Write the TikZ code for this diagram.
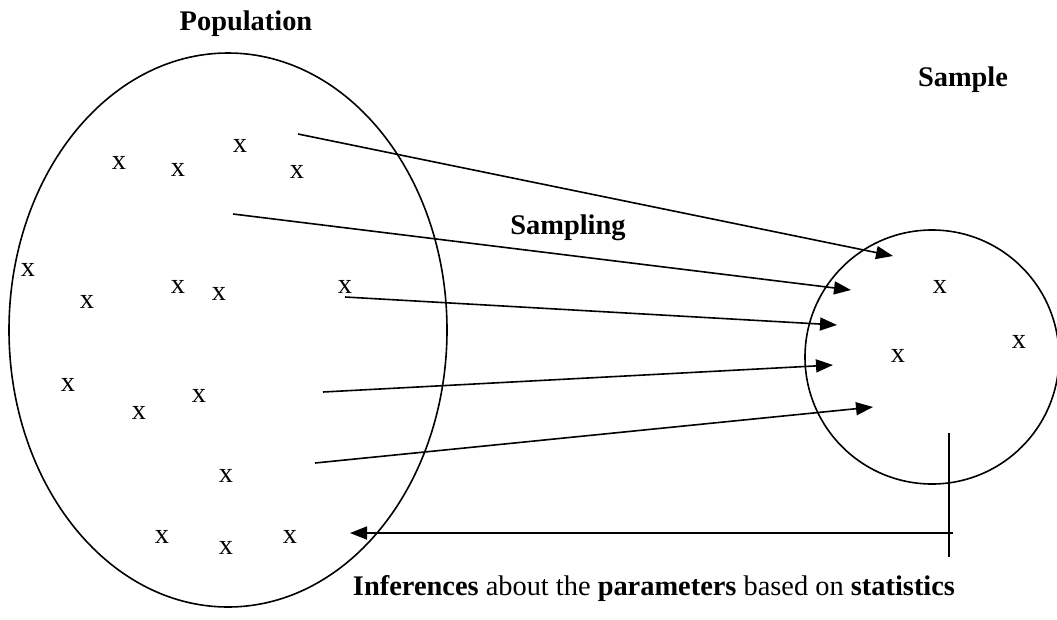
\documentclass[tikz,border=0pt]{standalone}
\usepackage{fontspec}
\setmainfont{Liberation Serif}
\usetikzlibrary{arrows.meta}
\begin{document}
\begin{tikzpicture}[x=1pt,y=-1pt,
  lbl/.style={font=\fontsize{28.4}{32}\selectfont\bfseries},
  mk/.style={font=\fontsize{28.4}{32}\selectfont, inner sep=0pt},
  arr/.style={line width=1.6pt,-{Triangle[length=17pt,width=13pt]}},
  ln/.style={line width=1.6pt}]
\useasboundingbox (0,0) rectangle (1057,619);
\draw[ln] (228,330) ellipse [x radius=219, y radius=277];
\draw[ln] (932,357) circle [radius=127];
\node[lbl] (pop) at (246,24) {Population};
\node[lbl] (sam) at (963,80) {Sample};
\node[lbl] (smp) at (568,228) {Sampling};
\node[font=\fontsize{28.4}{32}\selectfont] (inf) at (654,589) {\textbf{Inferences} about the \textbf{parameters} based on \textbf{statistics}};
\foreach \p/\n in {{119,163}/a1,{178,170}/a2,{240,146}/a3,{297,172}/a4,{28,270}/a5,{87,302}/a6,{178,287}/a7,{219,294}/a8,{345,287}/a9,{68,385}/a10,{139,413}/a11,{199,396}/a12,{226,476}/a13,{162,537}/a14,{226,548}/a15,{290,537}/a16,{940,287}/b1,{898,356}/b2,{1019,342}/b3}
  \node[mk] (\n) at (\p) {x};
\coordinate (s1) at (298,134); \coordinate (e1) at (893,256);
\coordinate (s2) at (233,214); \coordinate (e2) at (851,290);
\coordinate (s3) at (345,297); \coordinate (e3) at (837,325);
\coordinate (s4) at (323,392); \coordinate (e4) at (833,365);
\coordinate (s5) at (315,463); \coordinate (e5) at (873,407);
\foreach \i in {1,...,5} \draw[arr] (s\i) -- (e\i);
\coordinate (vt) at (949,433); \coordinate (vb) at (949,557);
\coordinate (hr) at (953,533); \coordinate (hl) at (350,533);
\draw[ln] (vt) -- (vb);
\draw[arr] (hr) -- (hl);
\end{tikzpicture}
\end{document}
